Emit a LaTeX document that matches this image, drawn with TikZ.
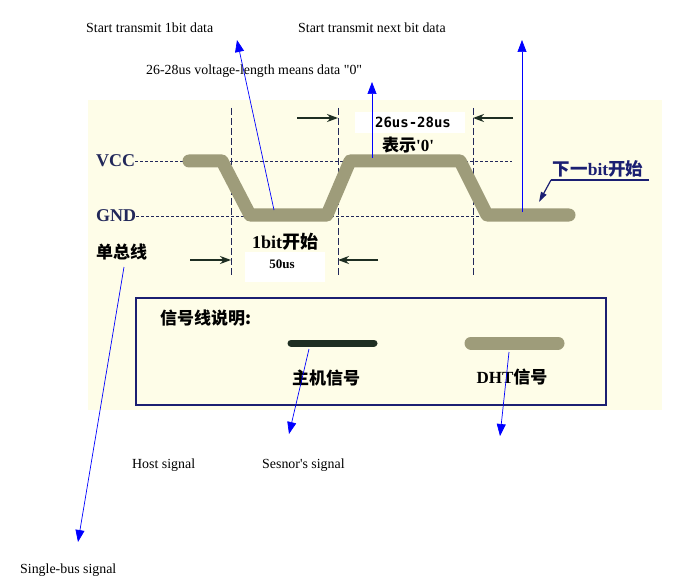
\documentclass[tikz,border=0pt]{standalone}
\usepackage{fontspec}
\setmainfont{Liberation Serif}
\newfontfamily\cjk{Noto Sans CJK SC}
\newfontfamily\monofont{DejaVu Sans Mono}
\usetikzlibrary{arrows.meta, calc}
\definecolor{cream}{HTML}{FEFDE8}
\definecolor{olive}{HTML}{9E9C7A}
\definecolor{hostgreen}{HTML}{1E2E22}
\definecolor{navy}{HTML}{1B1F72}
\definecolor{darknavy}{HTML}{22285A}
\tikzset{
    note_text/.style={anchor=west, inner sep=0pt, font=\fontsize{13.9}{16}\selectfont},
    level_text/.style={anchor=west, inner sep=0pt, text=darknavy, font=\fontsize{18}{21}\selectfont\bfseries},
    cjk_text/.style={inner sep=0pt, font=\fontsize{17}{20}\selectfont\cjk\bfseries},
    dht_line/.style={olive, line width=13pt, line cap=round, line join=round},
    host_line/.style={hostgreen, line width=7pt, line cap=round},
    level_line/.style={darknavy, densely dashed, line width=0.6pt},
    time_line/.style={darknavy, dash pattern=on 7pt off 3pt, line width=0.9pt},
    dim_arrow/.style={hostgreen, line width=2.6pt, -{Stealth[length=11pt,width=8pt]}},
    note_arrow/.style={blue, line width=0.7pt, -{Triangle[length=12pt,width=9pt]}},
    white_box/.style={fill=white, draw=none},
}
\begin{document}
\begin{tikzpicture}[x=1pt, y=-1pt]
    \useasboundingbox [fill=white] (0,0) rectangle (693,580);
    \fill [cream] (88,100) rectangle (662,410);
    \fill [white_box] (355,112) rectangle (465,133);
    \fill [white_box] (245,252) rectangle (325,282);

    %%%%%%%%%%%%%%%%%%
    % VOLTAGE LEVELS %
    %%%%%%%%%%%%%%%%%%
    \node (vcc_label) [level_text] at (96,161) {VCC};
    \node (gnd_label) [level_text] at (96,216) {GND};
    \node (bus_label) [cjk_text, anchor=west] at (96,252) {单总线};
    \coordinate (vcc_end) at (512,161);
    \coordinate (gnd_end) at (512,216);
    \draw [level_line] (vcc_label.east) -- (vcc_end);
    \draw [level_line] (gnd_label.east) -- (gnd_end);

    %%%%%%%%%%%%%%%%
    % TIME MARKERS %
    %%%%%%%%%%%%%%%%
    \foreach \x/\name in {231/start, 338/rise, 473/fall}
        \draw [time_line] (\x,108) -- (\x,275) coordinate (mark_\name);

    \coordinate (dim_top_a) at (297,118);
    \coordinate (dim_top_b) at (513,118);
    \coordinate (dim_bot_a) at (190,260);
    \coordinate (dim_bot_b) at (378,260);
    \draw [dim_arrow] (dim_top_a) -- (338,118);
    \draw [dim_arrow] (dim_top_b) -- (473,118);
    \draw [dim_arrow] (dim_bot_a) -- (231,260);
    \draw [dim_arrow] (dim_bot_b) -- (338,260);

    %%%%%%%%%%%%%%
    % DHT SIGNAL %
    %%%%%%%%%%%%%%
    \coordinate (sig_0) at (189,161);
    \coordinate (sig_1) at (222,161);
    \coordinate (sig_2) at (250,215);
    \coordinate (sig_3) at (327,215);
    \coordinate (sig_4) at (350,161);
    \coordinate (sig_5) at (460,161);
    \coordinate (sig_6) at (487,215);
    \coordinate (sig_7) at (569,215);
    \draw [dht_line] (sig_0) -- (sig_1) -- (sig_2) -- (sig_3) -- (sig_4)
        -- (sig_5) -- (sig_6) -- (sig_7);

    \node (low_label) [inner sep=0pt, font=\fontsize{18}{21}\selectfont\bfseries] at (285,242)
        {1bit{\cjk 开始}};
    \node (low_time) [inner sep=0pt, font=\fontsize{13}{15}\selectfont\bfseries] at (282,264) {50us};
    \node (high_time) [inner sep=0pt, font=\fontsize{14}{16}\selectfont\monofont\bfseries] at (413,122)
        {26us-28us};
    \node (high_label) [cjk_text] at (408,145) {表示{\rmfamily\textquotesingle0\textquotesingle}};

    \node (next_label) [inner sep=0pt, text=navy, font=\fontsize{17.5}{20}\selectfont\bfseries] at (598,169)
        {{\cjk 下一}bit{\cjk 开始}};
    \coordinate (next_under_a) at (551,180);
    \coordinate (next_under_b) at (649,180);
    \coordinate (next_tip) at (539,202);
    \draw [navy, line width=2pt] (next_under_b) -- (next_under_a);
    \draw [navy, line width=1.2pt, -{Triangle[length=10pt,width=6pt]}] (next_under_a) -- (next_tip);

    %%%%%%%%%%%%%%
    % LEGEND BOX %
    %%%%%%%%%%%%%%
    \draw [navy, line width=2.5pt] (136,298) rectangle (606,405);
    \node (legend_title) [cjk_text, anchor=west] at (160,318) {信号线说明:};
    \coordinate (host_a) at (291,343);
    \coordinate (host_b) at (374,343);
    \coordinate (dht_a) at (471,343);
    \coordinate (dht_b) at (558,343);
    \draw [host_line] (host_a) -- (host_b);
    \draw [dht_line] (dht_a) -- (dht_b);
    \node (host_label) [cjk_text] at (326,378) {主机信号};
    \node (dht_label) [inner sep=0pt, font=\fontsize{17}{20}\selectfont\bfseries] at (512,377)
        {DHT{\cjk 信号}};

    %%%%%%%%%%%%%%%%%
    % ENGLISH NOTES %
    %%%%%%%%%%%%%%%%%
    \node (note_start) [note_text] at (86,28) {Start transmit 1bit data};
    \node (note_next) [note_text] at (298,28) {Start transmit next bit data};
    \node (note_zero) [note_text] at (146,71) {26-28us voltage-length means data \textquotedbl0\textquotedbl};
    \node (note_host) [note_text] at (132,465) {Host signal};
    \node (note_sensor) [note_text] at (262,465) {Sesnor\textquotesingle s signal};
    \node (note_bus) [note_text] at (20,570) {Single-bus signal};

    \coordinate (tip_start) at (237,40);
    \coordinate (tip_zero) at (372,82);
    \coordinate (tip_next) at (522,40);
    \coordinate (tip_bus) at (78,542);
    \coordinate (tip_host) at (289,434);
    \coordinate (tip_dht) at (500,436);
    \coordinate (from_low) at (274,210);
    \coordinate (from_high) at (372,158);
    \coordinate (from_next) at (522,212);
    \coordinate (from_bus) at (124,267);
    \coordinate (from_host) at (309,349);
    \coordinate (from_dht) at (509,352);
    \draw [note_arrow] (from_low) -- (tip_start);
    \draw [note_arrow] (from_high) -- (tip_zero);
    \draw [note_arrow] (from_next) -- (tip_next);
    \draw [note_arrow] (from_bus) -- (tip_bus);
    \draw [note_arrow] (from_host) -- (tip_host);
    \draw [note_arrow] (from_dht) -- (tip_dht);
\end{tikzpicture}
\end{document}
